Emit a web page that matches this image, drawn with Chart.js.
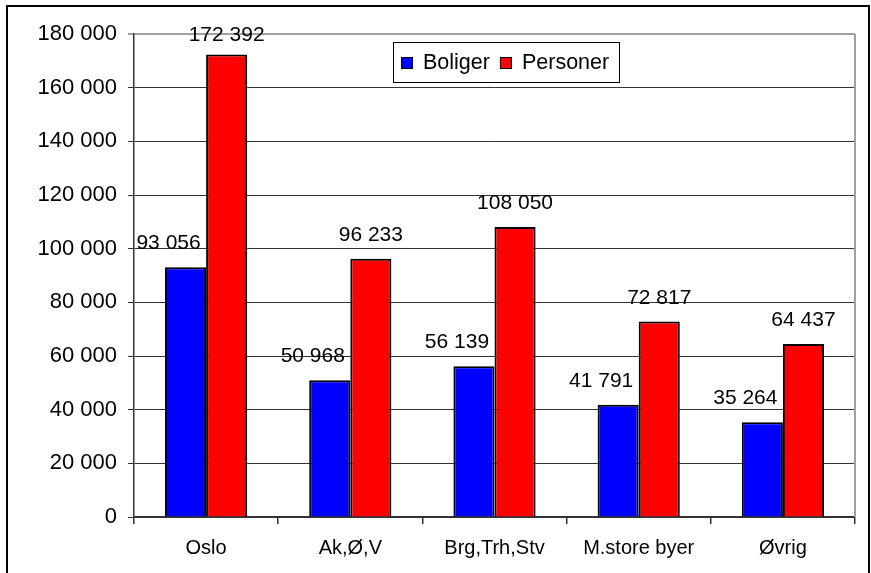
<!DOCTYPE html>
<html>
<head>
<meta charset="utf-8">
<script src="https://cdn.jsdelivr.net/npm/chart.js@4.4.1/dist/chart.umd.min.js"></script>
<style>
  html, body { margin: 0; padding: 0; background: #fff; }
  #wrap { width: 871px; height: 573px; position: relative; }
</style>
</head>
<body>
<div id="wrap"><canvas id="chart" width="871" height="573"></canvas></div>
<script>
const categories = ['Oslo', 'Ak,Ø,V', 'Brg,Trh,Stv', 'M.store byer', 'Øvrig'];
const boliger = [93056, 50968, 56139, 41791, 35264];
const personer = [172392, 96233, 108050, 72817, 64437];
const seriesNames = ['Boliger', 'Personer'];
const seriesColors = ['#0000ff', '#ff0000'];
const yMax = 180000;
const yStep = 20000;

const FONT = '"Liberation Sans", Arial, sans-serif';

function fmt(v) {
  return String(v).replace(/\B(?=(\d{3})+(?!\d))/g, ' ');
}

// frame round the whole picture, and the grey right edge of the plot
const framePlugin = {
  id: 'frame',
  beforeDraw(chart) {
    const ctx = chart.ctx;
    ctx.save();
    ctx.fillStyle = '#fff';
    ctx.fillRect(0, 0, chart.width, chart.height);
    ctx.strokeStyle = '#000';
    ctx.lineWidth = 2;
    ctx.beginPath();
    ctx.moveTo(7, chart.height);
    ctx.lineTo(7, 6);
    ctx.lineTo(869, 6);
    ctx.lineTo(869, chart.height);
    ctx.stroke();
    ctx.restore();
  },
  afterDraw(chart) {
    const { ctx, chartArea } = chart;
    ctx.save();
    ctx.strokeStyle = '#a0a0a0';
    ctx.lineWidth = 2;
    ctx.beginPath();
    ctx.moveTo(chartArea.right, chartArea.top);
    ctx.lineTo(chartArea.right, chartArea.bottom);
    ctx.stroke();
    ctx.restore();
  }
};

const valueLabels = {
  id: 'valueLabels',
  afterDatasetsDraw(chart) {
    const ctx = chart.ctx;
    ctx.save();
    ctx.font = '21px ' + FONT;
    ctx.fillStyle = '#000';
    ctx.textAlign = 'center';
    ctx.textBaseline = 'alphabetic';
    chart.data.datasets.forEach((ds, di) => {
      const meta = chart.getDatasetMeta(di);
      meta.data.forEach((bar, i) => {
        const dx = di === 0 ? -17 : 0;
        const y = Math.max(bar.y - 18, chart.chartArea.top + 7);
        ctx.fillText(fmt(ds.data[i]), bar.x + dx, y);
      });
    });
    ctx.restore();
  }
};

const boxLegend = {
  id: 'boxLegend',
  afterDraw(chart) {
    const { ctx, chartArea } = chart;
    const left = chartArea.left + 259;
    const top = chartArea.top + 8;
    const w = 226, h = 40;
    ctx.save();
    ctx.fillStyle = '#fff';
    ctx.fillRect(left, top, w, h);
    ctx.strokeStyle = '#000';
    ctx.lineWidth = 1;
    ctx.strokeRect(left + 0.5, top + 0.5, w, h);
    ctx.font = '21.5px ' + FONT;
    ctx.textBaseline = 'middle';
    ctx.textAlign = 'left';
    let x = left + 8;
    const cy = top + h / 2 + 1;
    chart.data.datasets.forEach((ds) => {
      ctx.fillStyle = ds.backgroundColor;
      ctx.fillRect(x, cy - 6, 12, 12);
      ctx.strokeStyle = '#000';
      ctx.strokeRect(x + 0.5, cy - 5.5, 11, 11);
      ctx.fillStyle = '#000';
      ctx.fillText(ds.label, x + 22, cy);
      x += 22 + ctx.measureText(ds.label).width + 10;
    });
    ctx.restore();
  }
};

new Chart(document.getElementById('chart'), {
  type: 'bar',
  data: {
    labels: categories,
    datasets: [
      { label: seriesNames[0], data: boliger, backgroundColor: seriesColors[0], borderColor: '#000', borderWidth: 2 },
      { label: seriesNames[1], data: personer, backgroundColor: seriesColors[1], borderColor: '#000', borderWidth: 2 },
    ],
  },
  plugins: [framePlugin, valueLabels, boxLegend],
  options: {
    responsive: false,
    animation: false,
    devicePixelRatio: 1,
    layout: { padding: { left: 0, top: 34, right: 16, bottom: 0 } },
    datasets: { bar: { categoryPercentage: 0.57, barPercentage: 1.0 } },
    plugins: { legend: { display: false }, tooltip: { enabled: false } },
    scales: {
      x: {
        afterFit(scale) { scale.height = 56; },
        grid: { offset: true, drawOnChartArea: false, drawTicks: true, tickLength: 7, color: '#333', lineWidth: 1.5 },
        border: { color: '#333', width: 1.5 },
        ticks: { color: '#000', font: { family: FONT, size: 20 }, padding: 12, maxRotation: 0 },
      },
      y: {
        min: 0,
        max: yMax,
        afterFit(scale) { scale.width = 134; },
        grid: {
          color: (c) => (c.tick && c.tick.value === yMax ? '#a0a0a0' : '#333'),
          lineWidth: (c) => (c.tick && c.tick.value === yMax ? 2 : 1),
          tickLength: 6,
        },
        border: { color: '#333', width: 1.5 },
        ticks: {
          stepSize: yStep,
          color: '#000',
          font: { family: FONT, size: 22 },
          padding: 11,
          callback: (v) => fmt(v),
        },
      },
    },
  },
});
</script>
</body>
</html>
